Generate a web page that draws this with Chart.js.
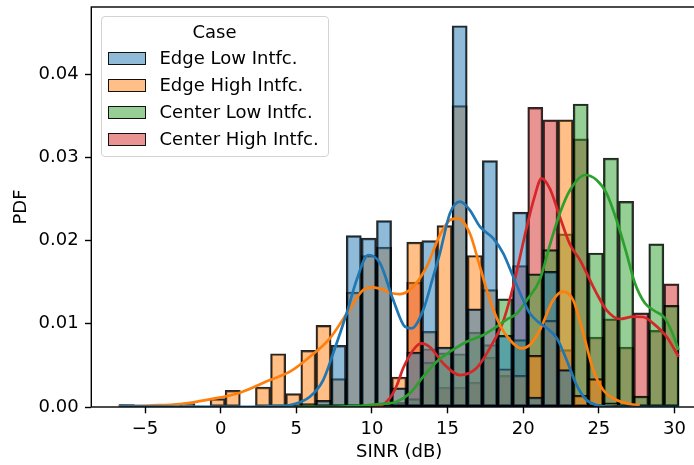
<!DOCTYPE html>
<html>
<head>
<meta charset="utf-8">
<title>SINR PDF</title>
<script src="https://cdn.jsdelivr.net/npm/chart.js@4.4.1/dist/chart.umd.min.js"></script>
<style>
  html, body { margin: 0; padding: 0; background: #fff; overflow: hidden; }
  #wrap { position: relative; width: 712px; height: 465px; }
  #legend {
    position: absolute; left: 100.5px; top: 16px; width: 228px; height: 141px;
    box-sizing: border-box; border: 1px solid #d3d3d3; border-radius: 4px;
    background: rgba(255, 255, 255, 0.8);
    font-family: 'DejaVu Sans'; font-size: 18px; color: #000;
  }
  #legend .title { position: absolute; left: 0; width: 100%; top: 4px; line-height: 22px; text-align: center; }
  #legend .item { position: absolute; left: 0; height: 24px; line-height: 24px; white-space: nowrap; }
  #legend .patch { position: absolute; left: 6px; top: 5.5px; width: 38px; height: 13px; box-sizing: border-box; border: 1.7px solid #111; }
  #legend .label { position: absolute; left: 58px; top: 0; }
</style>
</head>
<body>
<div id="wrap">
  <canvas id="chart" width="712" height="465"></canvas>
  <div id="legend"></div>
</div>
<script>
// histogram bins (width 1 dB), centres
var binCenters = [-6.2, -5.2, -4.2, -3.2, -2.2, -1.2, -0.2, 0.8, 1.8, 2.8, 3.8, 4.8, 5.8, 6.8, 7.8,
  8.8, 9.8, 10.8, 11.8, 12.8, 13.8, 14.8, 15.8, 16.8, 17.8, 18.8, 19.8, 20.8, 21.8, 22.8,
  23.8, 24.8, 25.8, 26.8, 27.8, 28.8, 29.8];

var seriesNames = ['Edge Low Intfc.', 'Edge High Intfc.', 'Center Low Intfc.', 'Center High Intfc.'];
var seriesColors = ['31,119,180', '255,127,14', '44,160,44', '214,39,40'];

// density per bin
var edgeLow = [0.0003, 0, 0, 0, 0, 0, 0, 0, 0, 0, 0, 0, 0.0004, 0.0008, 0.0074,
  0.0206, 0.0203, 0.0224, 0.0023, 0.0066, 0.0200, 0.0072, 0.0458, 0.0118, 0.0296, 0.0086, 0.0234, 0.0012, 0.0163, 0.0045,
  0, 0, 0, 0, 0, 0, 0];
var edgeHigh = [0.0003, 0, 0, 0, 0.0004, 0, 0.0010, 0.0020, 0, 0.0024, 0.0064, 0.0016, 0.0068, 0.0098, 0.0034,
  0.0138, 0.0182, 0.0192, 0.0036, 0.0198, 0.0091, 0.0218, 0.0362, 0.0182, 0.0141, 0.0046, 0.0038, 0.0062, 0.0104, 0.0345,
  0.0014, 0.0034, 0.0005, 0, 0, 0, 0];
var centerLow = [0, 0, 0, 0, 0, 0, 0, 0, 0, 0, 0, 0, 0, 0, 0,
  0, 0, 0, 0.0004, 0.0010, 0.0054, 0.0065, 0.0064, 0.0090, 0.0075, 0.0130, 0.0081, 0.0160, 0.0189, 0.0208,
  0.0364, 0.0185, 0.0299, 0.0247, 0.0013, 0.0196, 0.0122];
var centerHigh = [0, 0, 0, 0, 0, 0, 0, 0, 0, 0, 0, 0, 0, 0, 0,
  0, 0, 0, 0.0006, 0.0150, 0.0070, 0.0024, 0.0024, 0.0030, 0.0060, 0.0038, 0.0170, 0.0360, 0.0345, 0.0069,
  0.0322, 0.0084, 0.0106, 0.0072, 0.0113, 0.0092, 0.0148];

// kde curves
var kdeEdgeLowX = [-6.7, -3, 0, 2, 3.5, 4.6, 5.9, 6.78, 7.44, 8.33, 8.99, 9.76, 10.53, 11.41, 12.18, 12.62, 13.39,
  14.05, 14.49, 15.16, 15.82, 16.47, 17.14, 18.02, 18.68, 19.34, 20.0, 20.44, 21.1, 21.55, 22.21, 22.87, 23.53,
  24.19, 24.85, 26, 28, 30.3];
var kdeEdgeLowY = [0.0001, 0.00005, 0.00002, 0.00003, 0.0001, 0.00024, 0.00124, 0.00324, 0.00645, 0.01126, 0.01526,
  0.01826, 0.0173, 0.01285, 0.00965, 0.00945, 0.01165, 0.01565, 0.01846, 0.02327, 0.02466, 0.02366, 0.02166,
  0.02026, 0.01846, 0.01565, 0.01285, 0.01126, 0.01005, 0.0095, 0.0083, 0.00565, 0.00264, 0.00084, 0.00024,
  0.00003, 0, 0];
var kdeEdgeHighX = [-6.77, -4.5, -2.69, -0.71, 1.28, 3.26, 4.58, 5.9, 7.22, 8.33, 9.42, 10.09, 10.7, 11.19, 11.85,
  12.73, 13.62, 14.49, 15.16, 15.7, 16.47, 17.14, 17.8, 18.46, 19.12, 19.89, 20.44, 21.1, 21.98, 22.64, 23.3,
  23.97, 24.63, 25.29, 26.17, 27.05, 27.71];
var kdeEdgeHighY = [0.00012, 0.0002, 0.00036, 0.00092, 0.00172, 0.00324, 0.00424, 0.00604, 0.00825, 0.0112,
  0.01405, 0.01438, 0.0141, 0.01373, 0.01357, 0.01445, 0.01685, 0.02066, 0.02246, 0.02267, 0.02087, 0.01685,
  0.01285, 0.00985, 0.00805, 0.00705, 0.00745, 0.00925, 0.01285, 0.01385, 0.01285, 0.00885, 0.00444, 0.00204,
  0.00084, 0.00036, 0.00024];
var kdeCenterLowX = [5.0, 8.0, 10.53, 11.63, 12.51, 13.39, 14.28, 15.16, 16.26, 17.36, 18.24, 18.9, 19.56, 20.22,
  21.1, 21.77, 22.43, 23.1, 24.09, 24.85, 25.51, 26.17, 26.83, 27.38, 28.04, 28.7, 29.36, 29.83, 30.27];
var kdeCenterLowY = [0, 0.00005, 0.00036, 0.00064, 0.00165, 0.00364, 0.00544, 0.00664, 0.00784, 0.00865, 0.00965,
  0.0105, 0.0112, 0.0128, 0.0153, 0.0195, 0.0233, 0.02607, 0.02787, 0.02727, 0.02567, 0.02246, 0.01846, 0.0149,
  0.01249, 0.01153, 0.01069, 0.009, 0.00685];
var kdeCenterHighX = [9.8, 10.6, 11.19, 11.63, 12.07, 12.73, 13.24, 13.83, 14.71, 15.82, 16.92, 17.8, 18.68, 19.34,
  20.22, 20.71, 21.22, 21.77, 22.43, 23.1, 23.75, 24.85, 25.51, 26.39, 27.27, 27.93, 28.59, 29.48, 30.27];
var kdeCenterHighY = [0, 0.0002, 0.00108, 0.00252, 0.00468, 0.00685, 0.00765, 0.00721, 0.00525, 0.00384, 0.00468,
  0.00709, 0.0103, 0.0145, 0.0215, 0.0250, 0.02747, 0.0262, 0.0228, 0.0195, 0.01766, 0.01366, 0.01165, 0.01057,
  0.01085, 0.01081, 0.01005, 0.00844, 0.00604];

var xTicks = [-5, 0, 5, 10, 15, 20, 25, 30];
var yTicks = [0, 0.01, 0.02, 0.03, 0.04];

Chart.defaults.font.family = "'DejaVu Sans'";
Chart.defaults.font.size = 18;
Chart.defaults.color = '#000';

function barSet(i, values) {
  return {
    type: 'bar',
    label: seriesNames[i],
    data: binCenters.map(function(x, k) { return {x: x, y: values[k]}; }),
    backgroundColor: 'rgba(' + seriesColors[i] + ',0.5)',
    borderColor: 'rgba(0,0,0,0.85)',
    borderWidth: 1.8,
    borderSkipped: false,
    barPercentage: 1,
    categoryPercentage: 1,
    grouped: false,
    order: 1
  };
}

function kdeSet(i, xs, ys) {
  return {
    type: 'line',
    label: seriesNames[i] + ' KDE',
    data: xs.map(function(x, k) { return {x: x, y: ys[k]}; }),
    borderColor: 'rgb(' + seriesColors[i] + ')',
    borderWidth: 2.7,
    pointRadius: 0,
    fill: false,
    cubicInterpolationMode: 'monotone',
    order: 0
  };
}

// axes frame on top of everything
var framePlugin = {
  id: 'frame',
  afterDatasetsDraw: function(chart) {
    var a = chart.chartArea, c = chart.ctx;
    c.save();
    c.strokeStyle = '#000';
    c.lineWidth = 1.4;
    c.strokeRect(a.left, a.top, a.right - a.left, a.bottom - a.top);
    c.restore();
  }
};

var ctx = document.getElementById('chart').getContext('2d');
new Chart(ctx, {
  type: 'bar',
  data: {
    datasets: [
      kdeSet(0, kdeEdgeLowX, kdeEdgeLowY),
      kdeSet(1, kdeEdgeHighX, kdeEdgeHighY),
      kdeSet(2, kdeCenterLowX, kdeCenterLowY),
      kdeSet(3, kdeCenterHighX, kdeCenterHighY),
      barSet(0, edgeLow),
      barSet(1, edgeHigh),
      barSet(2, centerLow),
      barSet(3, centerHigh)
    ]
  },
  options: {
    responsive: false,
    animation: false,
    devicePixelRatio: 1,
    layout: { padding: { left: 0, top: 7, right: 5, bottom: 0 } },
    plugins: { legend: { display: false }, tooltip: { enabled: false } },
    scales: {
      x: {
        type: 'linear',
        min: -8.55,
        max: 32.15,
        offset: false,
        afterBuildTicks: function(s) { s.ticks = xTicks.map(function(v) { return {value: v}; }); },
        afterFit: function(s) { s.height = 58; s.paddingLeft = 0; s.paddingRight = 0; },
        ticks: {
          autoSkip: false, maxRotation: 0, padding: 5,
          callback: function(v) { return v < 0 ? '\u2212' + Math.abs(v) : String(v); }
        },
        grid: { offset: false, drawOnChartArea: false, drawTicks: true, tickLength: 6.3, tickWidth: 1.4, tickColor: '#000' },
        border: { display: false },
        title: { display: true, text: 'SINR (dB)', padding: { top: 0, bottom: 2 } }
      },
      y: {
        min: 0,
        max: 0.04805,
        afterBuildTicks: function(s) { s.ticks = yTicks.map(function(v) { return {value: v}; }); },
        afterFit: function(s) { s.width = 91.3; s.paddingTop = 0; s.paddingBottom = 0; },
        ticks: { padding: 6.3, callback: function(v) { return v.toFixed(2); } },
        grid: { drawOnChartArea: false, drawTicks: true, tickLength: 6.3, tickWidth: 1.4, tickColor: '#000' },
        border: { display: false },
        title: { display: true, text: 'PDF', padding: { top: 10.5, bottom: 0 } }
      }
    }
  },
  plugins: [framePlugin]
});

// legend box
var legend = document.getElementById('legend');
var t = document.createElement('div');
t.className = 'title';
t.textContent = 'Case';
legend.appendChild(t);
var rowTops = [29, 56, 83, 110];
seriesNames.forEach(function(name, i) {
  var item = document.createElement('div');
  item.className = 'item';
  item.style.top = rowTops[i] + 'px';
  var p = document.createElement('span');
  p.className = 'patch';
  p.style.background = 'rgba(' + seriesColors[i] + ',0.5)';
  var l = document.createElement('span');
  l.className = 'label';
  l.textContent = name;
  item.appendChild(p);
  item.appendChild(l);
  legend.appendChild(item);
});
</script>
</body>
</html>
